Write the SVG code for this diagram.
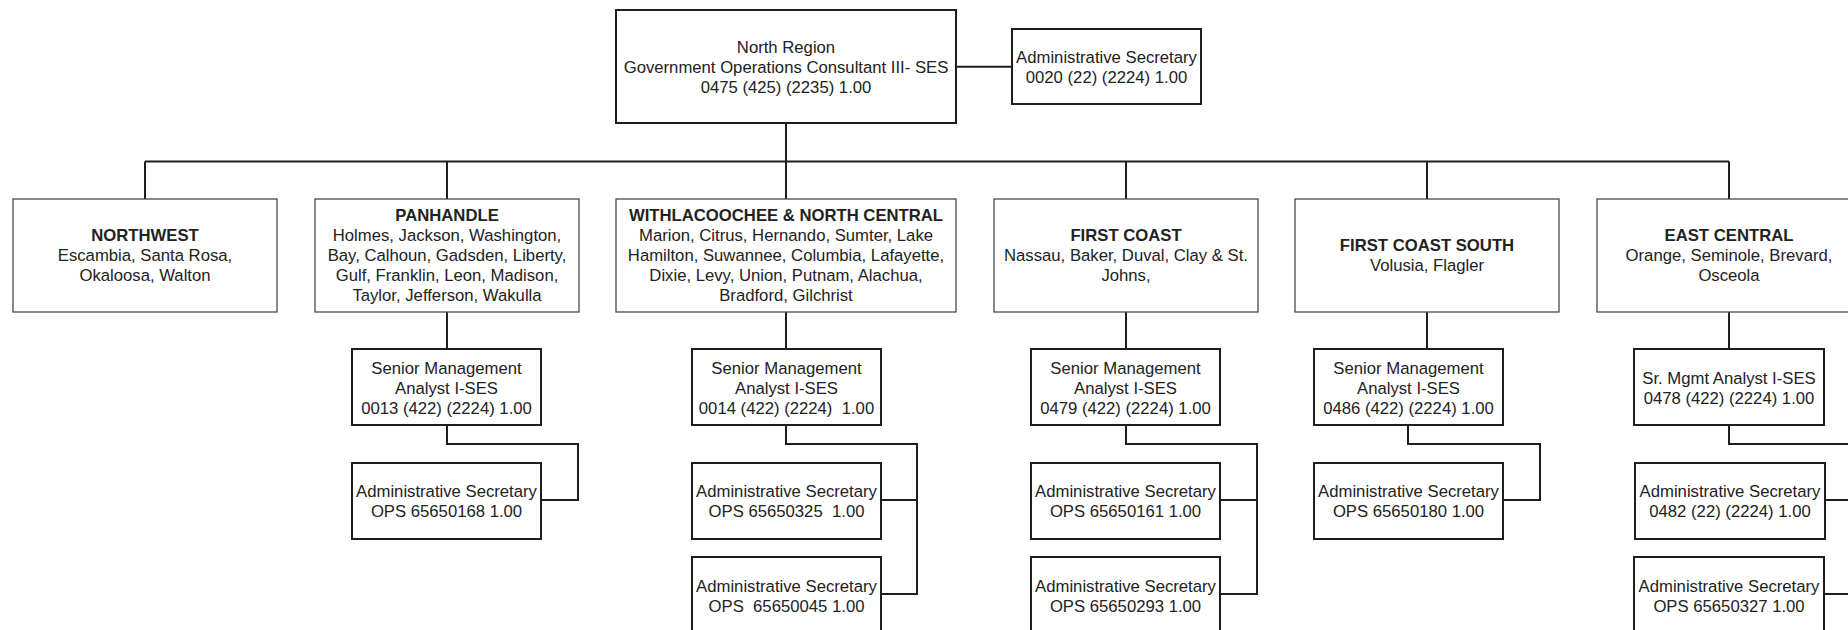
<svg xmlns="http://www.w3.org/2000/svg" width="1848" height="630" viewBox="0 0 1848 630">
  <style>
    text { font-family: "Liberation Sans", Arial, sans-serif; font-size: 16.7px; fill: #222; text-anchor: middle; }
    .b { font-weight: bold; }
    .box { fill: #fff; stroke: #1e1e1e; stroke-width: 2; }
    .region { fill: #fff; stroke: #4a4a4a; stroke-width: 1.3; }
    .wire { fill: none; stroke: #1e1e1e; stroke-width: 2; }
  </style>
  <rect width="1848" height="630" fill="#fff"/>

  <!-- connectors -->
  <g id="connectors" class="wire">
    <line x1="956" y1="66.7" x2="1012" y2="66.7"/>
    <line x1="786" y1="123" x2="786" y2="199"/>
    <line x1="145" y1="161.5" x2="1729" y2="161.5"/>
    <line x1="145" y1="161.5" x2="145" y2="199"/>
    <line x1="447" y1="161.5" x2="447" y2="199"/>
    <line x1="1126" y1="161.5" x2="1126" y2="199"/>
    <line x1="1427" y1="161.5" x2="1427" y2="199"/>
    <line x1="1729" y1="161.5" x2="1729" y2="199"/>
    <!-- region to senior analyst -->
    <line x1="447" y1="312" x2="447" y2="349"/>
    <line x1="786" y1="312" x2="786" y2="349"/>
    <line x1="1126" y1="312" x2="1126" y2="349"/>
    <line x1="1427" y1="312" x2="1427" y2="349"/>
    <line x1="1729" y1="312" x2="1729" y2="349"/>
    <!-- analyst to secretaries -->
    <polyline points="447,425 447,444 578,444 578,500 541,500"/>
    <polyline points="786,425 786,444 917,444 917,594 881,594"/>
    <line x1="881" y1="500" x2="917" y2="500"/>
    <polyline points="1126,425 1126,444 1257,444 1257,594 1220,594"/>
    <line x1="1220" y1="500" x2="1257" y2="500"/>
    <polyline points="1408,425 1408,444 1540,444 1540,500 1503,500"/>
    <polyline points="1729,425 1729,444 1861,444 1861,594 1824,594"/>
    <line x1="1824" y1="500" x2="1861" y2="500"/>
  </g>

  <g id="north-region">
    <rect class="box" x="616" y="10" width="340" height="113"/>
    <text x="786" y="52.5">North Region</text>
    <text x="786" y="72.5">Government Operations Consultant III- SES</text>
    <text x="786" y="92.5">0475 (425) (2235) 1.00</text>
  </g>
  <g id="north-admin">
    <rect class="box" x="1012" y="29" width="189" height="75"/>
    <text x="1106.5" y="62.5">Administrative Secretary</text>
    <text x="1106.5" y="82.5">0020 (22) (2224) 1.00</text>
  </g>

  <g id="northwest">
    <rect class="region" x="13" y="199" width="264" height="113"/>
    <text class="b" x="145" y="241">NORTHWEST</text>
    <text x="145" y="261">Escambia, Santa Rosa,</text>
    <text x="145" y="281">Okaloosa, Walton</text>
  </g>
  <g id="panhandle">
    <rect class="region" x="315" y="199" width="264" height="113"/>
    <text class="b" x="447" y="220.5">PANHANDLE</text>
    <text x="447" y="240.5">Holmes, Jackson, Washington,</text>
    <text x="447" y="260.5">Bay, Calhoun, Gadsden, Liberty,</text>
    <text x="447" y="280.5">Gulf, Franklin, Leon, Madison,</text>
    <text x="447" y="300.5">Taylor, Jefferson, Wakulla</text>
  </g>
  <g id="withlacoochee">
    <rect class="region" x="616" y="199" width="340" height="113"/>
    <text class="b" x="786" y="220.5" textLength="314" lengthAdjust="spacingAndGlyphs">WITHLACOOCHEE &amp; NORTH CENTRAL</text>
    <text x="786" y="240.5">Marion, Citrus, Hernando, Sumter, Lake</text>
    <text x="786" y="260.5">Hamilton, Suwannee, Columbia, Lafayette,</text>
    <text x="786" y="280.5">Dixie, Levy, Union, Putnam, Alachua,</text>
    <text x="786" y="300.5">Bradford, Gilchrist</text>
  </g>
  <g id="first-coast">
    <rect class="region" x="994" y="199" width="264" height="113"/>
    <text class="b" x="1126" y="241">FIRST COAST</text>
    <text x="1126" y="261">Nassau, Baker, Duval, Clay &amp; St.</text>
    <text x="1126" y="281">Johns,</text>
  </g>
  <g id="first-coast-south">
    <rect class="region" x="1295" y="199" width="264" height="113"/>
    <text class="b" x="1427" y="251">FIRST COAST SOUTH</text>
    <text x="1427" y="271">Volusia, Flagler</text>
  </g>
  <g id="east-central">
    <rect class="region" x="1597" y="199" width="264" height="113"/>
    <text class="b" x="1729" y="241">EAST CENTRAL</text>
    <text x="1729" y="261">Orange, Seminole, Brevard,</text>
    <text x="1729" y="281">Osceola</text>
  </g>

  <!-- senior analysts -->
  <g id="analyst-0013">
    <rect class="box" x="352" y="349" width="189" height="76"/>
    <text x="446.5" y="373.5">Senior Management</text>
    <text x="446.5" y="393.5">Analyst I-SES</text>
    <text x="446.5" y="413.5">0013 (422) (2224) 1.00</text>
  </g>
  <g id="analyst-0014">
    <rect class="box" x="692" y="349" width="189" height="76"/>
    <text x="786.5" y="373.5">Senior Management</text>
    <text x="786.5" y="393.5">Analyst I-SES</text>
    <text x="786.5" y="413.5" xml:space="preserve">0014 (422) (2224)  1.00</text>
  </g>
  <g id="analyst-0479">
    <rect class="box" x="1031" y="349" width="189" height="76"/>
    <text x="1125.5" y="373.5">Senior Management</text>
    <text x="1125.5" y="393.5">Analyst I-SES</text>
    <text x="1125.5" y="413.5">0479 (422) (2224) 1.00</text>
  </g>
  <g id="analyst-0486">
    <rect class="box" x="1314" y="349" width="189" height="76"/>
    <text x="1408.5" y="373.5">Senior Management</text>
    <text x="1408.5" y="393.5">Analyst I-SES</text>
    <text x="1408.5" y="413.5">0486 (422) (2224) 1.00</text>
  </g>
  <g id="analyst-0478">
    <rect class="box" x="1634" y="349" width="190" height="76"/>
    <text x="1729" y="384">Sr. Mgmt Analyst I-SES</text>
    <text x="1729" y="404">0478 (422) (2224) 1.00</text>
  </g>

  <!-- secretaries -->
  <g id="sec-65650168">
    <rect class="box" x="352" y="463" width="189" height="76"/>
    <text x="446.5" y="497">Administrative Secretary</text>
    <text x="446.5" y="517">OPS 65650168 1.00</text>
  </g>
  <g id="sec-65650325">
    <rect class="box" x="692" y="463" width="189" height="76"/>
    <text x="786.5" y="497">Administrative Secretary</text>
    <text x="786.5" y="517" xml:space="preserve">OPS 65650325  1.00</text>
  </g>
  <g id="sec-65650045">
    <rect class="box" x="692" y="557" width="189" height="76"/>
    <text x="786.5" y="592">Administrative Secretary</text>
    <text x="786.5" y="612" xml:space="preserve">OPS  65650045 1.00</text>
  </g>
  <g id="sec-65650161">
    <rect class="box" x="1031" y="463" width="189" height="76"/>
    <text x="1125.5" y="497">Administrative Secretary</text>
    <text x="1125.5" y="517">OPS 65650161 1.00</text>
  </g>
  <g id="sec-65650293">
    <rect class="box" x="1031" y="557" width="189" height="76"/>
    <text x="1125.5" y="592">Administrative Secretary</text>
    <text x="1125.5" y="612">OPS 65650293 1.00</text>
  </g>
  <g id="sec-65650180">
    <rect class="box" x="1314" y="463" width="189" height="76"/>
    <text x="1408.5" y="497">Administrative Secretary</text>
    <text x="1408.5" y="517">OPS 65650180 1.00</text>
  </g>
  <g id="sec-0482">
    <rect class="box" x="1635" y="463" width="190" height="76"/>
    <text x="1730" y="497">Administrative Secretary</text>
    <text x="1730" y="517">0482 (22) (2224) 1.00</text>
  </g>
  <g id="sec-65650327">
    <rect class="box" x="1634" y="557" width="190" height="76"/>
    <text x="1729" y="592">Administrative Secretary</text>
    <text x="1729" y="612">OPS 65650327 1.00</text>
  </g>
</svg>
